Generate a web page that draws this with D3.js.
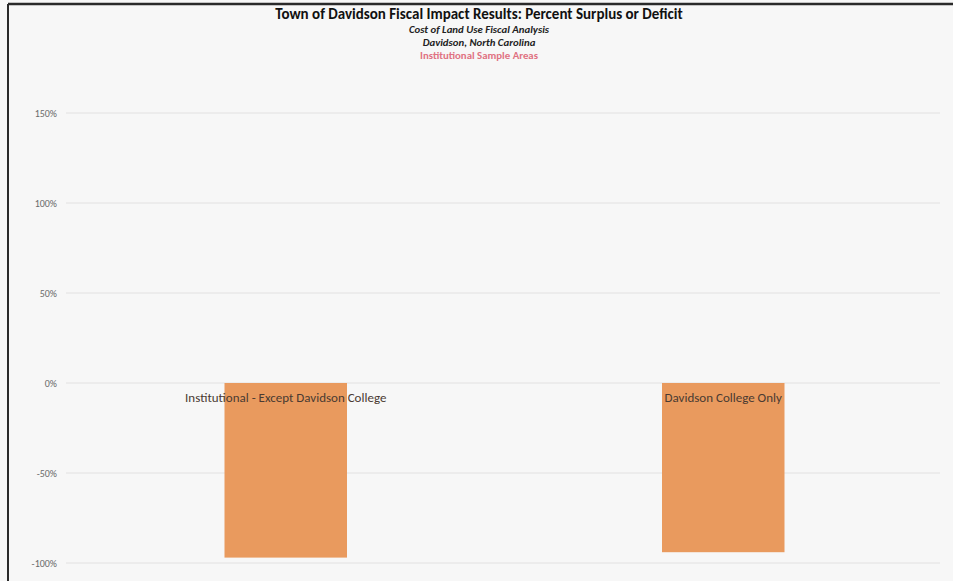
<!DOCTYPE html>
<html><head><meta charset="utf-8">
<script src="https://cdn.jsdelivr.net/npm/d3@7"></script>
<style>
html,body{margin:0;padding:0;background:#f7f7f7;overflow:hidden;}
svg{display:block;}
</style></head>
<body><svg id="chart" width="953" height="581"></svg>
<script>
const categories = ["Institutional - Except Davidson College", "Davidson College Only"];
const values = [-97, -94];
const tickValues = [-100, -50, 0, 50, 100, 150];
const titleLines = ["Town of Davidson Fiscal Impact Results: Percent Surplus or Deficit", "Cost of Land Use Fiscal Analysis", "Davidson, North Carolina", "Institutional Sample Areas"];

const FONT = "Carlito, Calibri, 'Liberation Sans', sans-serif";
const svg = d3.select("#chart");
const W = 953, H = 581;

// frame lines
svg.append("line").attr("x1", 8).attr("x2", W).attr("y1", 4).attr("y2", 4)
  .attr("stroke", "#2a2a2a").attr("stroke-width", 2.5);
svg.append("line").attr("x1", 8).attr("x2", 8).attr("y1", 4).attr("y2", H)
  .attr("stroke", "#2a2a2a").attr("stroke-width", 2);

const y = d3.scaleLinear().domain([-100, 150]).range([563, 113]);
const x = d3.scaleBand().domain(categories).range([67, 942]).paddingInner(0.72).paddingOuter(0.36);

// gridlines
svg.append("g").selectAll("line").data(tickValues).join("line")
  .attr("x1", 66).attr("x2", 940)
  .attr("y1", d => y(d)).attr("y2", d => y(d))
  .attr("stroke", "#e2e1e1").attr("stroke-width", 1);

// y axis labels
const yAxis = d3.axisLeft(y).tickValues(tickValues).tickFormat(d => d + "%").tickSize(0).tickPadding(8);
const gAxis = svg.append("g").attr("transform", "translate(65,0)").call(yAxis);
gAxis.select(".domain").remove();
gAxis.selectAll("text").attr("font-family", FONT)
  .attr("font-size", 10).attr("fill", "#6a6a6a");

// bars
svg.append("g").selectAll("rect").data(values).join("rect")
  .attr("x", (d, i) => x(categories[i]))
  .attr("width", x.bandwidth())
  .attr("y", d => y(Math.max(0, d)))
  .attr("height", d => Math.abs(y(d) - y(0)))
  .attr("fill", "#e99a5e");

// labels
svg.append("g").selectAll("text").data(values).join("text")
  .attr("x", (d, i) => x(categories[i]) + x.bandwidth() / 2)
  .attr("y", y(0) + 19)
  .attr("text-anchor", "middle")
  .attr("font-family", FONT)
  .attr("font-size", 13)
  .attr("fill", "#4a3a32")
  .text((d, i) => categories[i]);

// titles
const cx = 479;
svg.append("text").attr("x", cx).attr("y", 19).attr("text-anchor", "middle")
  .attr("font-family", FONT)
  .attr("font-size", 15).attr("font-weight", "bold").attr("fill", "#111")
  .text(titleLines[0]);
svg.append("text").attr("x", cx).attr("y", 33).attr("text-anchor", "middle")
  .attr("font-family", FONT)
  .attr("font-size", 10.8).attr("font-weight", "bold").attr("font-style", "italic").attr("fill", "#222")
  .text(titleLines[1]);
svg.append("text").attr("x", cx).attr("y", 46).attr("text-anchor", "middle")
  .attr("font-family", FONT)
  .attr("font-size", 10.8).attr("font-weight", "bold").attr("font-style", "italic").attr("fill", "#222")
  .text(titleLines[2]);
svg.append("text").attr("x", cx).attr("y", 59).attr("text-anchor", "middle")
  .attr("font-family", FONT)
  .attr("font-size", 10.8).attr("font-weight", "bold").attr("fill", "#e07282")
  .text(titleLines[3]);
</script></body></html>
